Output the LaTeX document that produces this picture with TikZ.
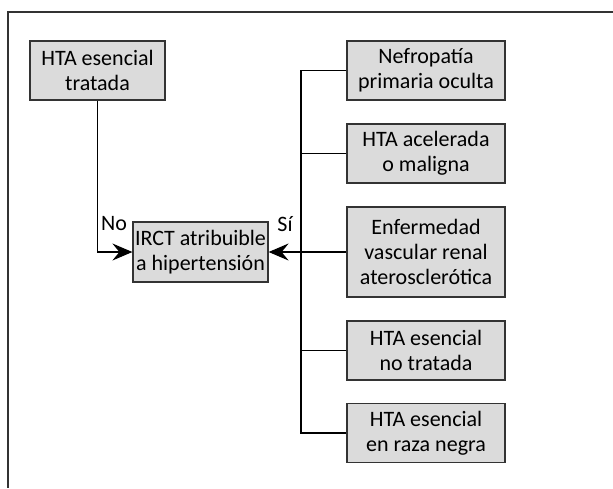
\documentclass[tikz,border=0pt]{standalone}
\usepackage{fontspec}
\setmainfont{Carlito}
\usetikzlibrary{arrows.meta, positioning}

\begin{document}
\begin{tikzpicture}[
            x=0.5pt, y=-0.5pt,
            every node/.style={align=center, font=\fontsize{11}{12.5}\selectfont},
            box/.style={draw=black!80, fill=black!14, line width=0.6pt, inner sep=0pt,
                        minimum width=67.5pt, minimum height=29.5pt},
            cause/.style={box, minimum width=79pt},
            conn/.style={line width=0.6pt},
            arr/.style={conn, -{Stealth[length=10pt, width=8.5pt, inset=3.5pt]}}
        ]
            \useasboundingbox (0,0) rectangle (613,488);
            % frame
            \draw[line width=0.8pt, black!80] (613,12) -- (8,12) -- (8,488);

            \node[box] (tratada) at (97.5,70.5) {HTA esencial\\tratada};
            \node[box, minimum height=30pt] (irct) at (200.5,252) {IRCT atribuible\\a hipertensión};

            \node[cause] (nefro) at (426,70.5) {Nefropatía\\primaria oculta};
            \node[cause] (acel) at (426,153.5) {HTA acelerada\\o maligna};
            \node[cause, minimum height=45pt] (enferm) at (426,252) {Enfermedad\\vascular renal\\aterosclerótica};
            \node[cause] (notrat) at (426,350.5) {HTA esencial\\no tratada};
            \node[cause] (raza) at (426,433) {HTA esencial\\en raza negra};

            \coordinate (bus) at (301,70.5);

            % No branch
            \draw[arr] (tratada.south) |- (irct.west);
            \node (no) at (114,224) {No};

            % Si branch
            \draw[conn] (nefro.west) -- (nefro.west -| bus) |- (raza.west);
            \foreach \c in {acel, notrat}
                \draw[conn] (\c.west) -- (\c.west -| bus);
            \draw[arr] (enferm.west) -- (irct.east);
            \node (si) at (285,224) {Sí};
        \end{tikzpicture}
\end{document}
